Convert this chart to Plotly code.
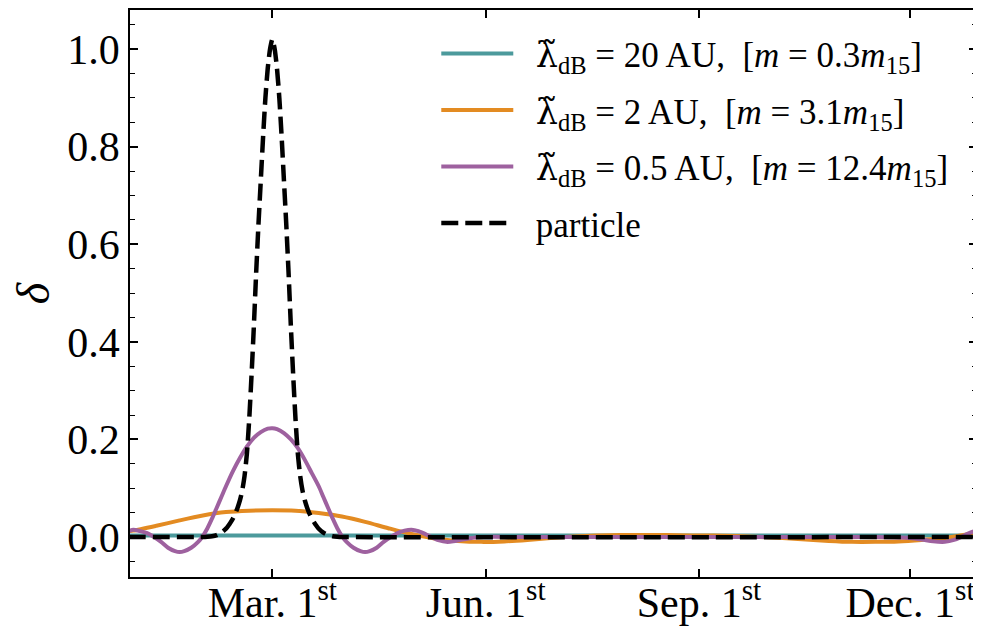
import plotly.graph_objects as go

# Day of year (Jan 1 = 1): Mar 1 = 60, Jun 1 = 152, Sep 1 = 244, Dec 1 = 335
tick_days = [60, 152, 244, 335]
tick_labels = ["Mar. 1<sup>st</sup>", "Jun. 1<sup>st</sup>", "Sep. 1<sup>st</sup>", "Dec. 1<sup>st</sup>"]

# lambda_dB = 20 AU
teal_days = [-2, 60, 150, 240, 330, 366]
teal_vals = [0.003, 0.003, 0.003, 0.003, 0.003, 0.003]

# lambda_dB = 2 AU
orange_days = [-2, 0, 10, 20, 30, 40, 50, 60, 70, 80, 90, 100, 110, 120, 130, 140, 150, 160,
               170, 180, 190, 200, 210, 220, 230, 240, 250, 260, 270, 280, 290, 300, 310,
               320, 330, 340, 350, 358, 366]
orange_vals = [0.012, 0.013, 0.023, 0.034, 0.044, 0.051, 0.054, 0.055, 0.054, 0.049, 0.042,
               0.031, 0.018, 0.006, -0.003, -0.008, -0.010, -0.009, -0.006, -0.002, 0.001,
               0.003, 0.004, 0.004, 0.004, 0.003, 0.003, 0.002, 0.000, -0.002, -0.005,
               -0.008, -0.010, -0.010, -0.009, -0.006, -0.002, 0.004, 0.012]

# lambda_dB = 0.5 AU
purple_days = [-2, 0, 3, 6, 9, 12, 15, 18, 20, 22, 25, 28, 30, 32, 34, 36, 38, 40, 43, 46, 49,
               52, 55, 58, 60, 62, 65, 68, 71, 74, 77, 80, 82, 84, 86, 88, 90, 92, 95, 98,
               100, 102, 105, 108, 111, 114, 117, 120, 123, 126, 129, 132, 135, 138, 142,
               146, 150, 170, 200, 230, 260, 290, 320, 330, 335, 340, 345, 350, 354, 357,
               360, 363, 366]
purple_vals = [0.012, 0.015, 0.012, 0.008, 0.000, -0.010, -0.022, -0.029, -0.031, -0.029,
               -0.022, -0.010, 0.002, 0.018, 0.038, 0.060, 0.082, 0.104, 0.135, 0.162,
               0.185, 0.203, 0.215, 0.222, 0.223, 0.221, 0.213, 0.200, 0.182, 0.158, 0.131,
               0.104, 0.082, 0.060, 0.038, 0.018, 0.002, -0.010, -0.022, -0.029, -0.031,
               -0.029, -0.022, -0.010, 0.000, 0.008, 0.013, 0.015, 0.012, 0.006, -0.001,
               -0.007, -0.010, -0.009, -0.005, -0.002, 0.000, 0.000, 0.000, 0.000, 0.000,
               0.000, 0.000, -0.001, -0.002, -0.005, -0.009, -0.010, -0.006, 0.000, 0.007,
               0.012, 0.015]

# particle
particle_days = [-2, 30, 32, 34, 36, 38, 40, 41, 42, 43, 44, 45, 46, 47, 48, 49, 50, 51, 52,
                 53, 54, 55, 56, 57, 58, 59, 60, 61, 62, 63, 64, 65, 66, 67, 68, 69, 70, 71,
                 72, 73, 74, 75, 76, 77, 78, 79, 80, 82, 84, 86, 88, 90, 366]
particle_vals = [0.0, 0.0, 0.0005, 0.0015, 0.004, 0.009, 0.017, 0.023, 0.030, 0.038, 0.048,
                 0.060, 0.075, 0.095, 0.125, 0.17, 0.24, 0.33, 0.43, 0.54, 0.64, 0.73, 0.82,
                 0.90, 0.96, 1.00, 1.02, 1.00, 0.96, 0.90, 0.82, 0.73, 0.64, 0.54, 0.43, 0.33,
                 0.24, 0.17, 0.125, 0.095, 0.075, 0.060, 0.048, 0.038, 0.030, 0.023, 0.017,
                 0.009, 0.004, 0.0015, 0.0005, 0.0, 0.0]

y_ticks = [0.0, 0.2, 0.4, 0.6, 0.8, 1.0]

teal = "#4c9a9c"
orange = "#e38b22"
purple = "#9e619f"

NB = "\u00a0"
SP = "\u2002"
lam = "<span style=\"font-family:'DejaVu Serif'\">λ\u0303</span><sub>dB</sub>"
names = [
    f"{SP}{lam} = 20 AU,{NB}{NB}[<i>m</i> = 0.3<i>m</i><sub>15</sub>]",
    f"{SP}{lam} = 2 AU,{NB}{NB}[<i>m</i> = 3.1<i>m</i><sub>15</sub>]",
    f"{SP}{lam} = 0.5 AU,{NB}{NB}[<i>m</i> = 12.4<i>m</i><sub>15</sub>]",
    f"{SP}particle",
]

fig = go.Figure()
fig.add_trace(go.Scatter(x=teal_days, y=teal_vals, mode="lines", name=names[0],
                         legendgroup="a", line=dict(color=teal, width=4)))
fig.add_trace(go.Scatter(x=orange_days, y=orange_vals, mode="lines", name=names[1],
                         legendgroup="b", line=dict(color=orange, width=4, shape="spline", smoothing=0.8)))
fig.add_trace(go.Scatter(x=purple_days, y=purple_vals, mode="lines", name=names[2],
                         legendgroup="c", line=dict(color=purple, width=4, shape="spline", smoothing=0.8)))
fig.add_trace(go.Scatter(x=particle_days, y=particle_vals, mode="lines", name=names[3],
                         legendgroup="d", line=dict(color="black", width=4.5, dash="17px,7px",
                                                    shape="spline", smoothing=0.6)))

font_family = "Liberation Serif, Times New Roman, serif"

# the page body adds an 8px offset, so the figure is sized 8px smaller
fig.update_layout(
    width=973, height=622,
    margin=dict(l=122, r=4, t=2, b=53, autoexpand=False),
    paper_bgcolor="white", plot_bgcolor="white",
    font=dict(family=font_family, color="black", size=42),
    showlegend=True,
    legend=dict(x=0.972, xanchor="right", y=0.975, yanchor="top",
                bgcolor="rgba(0,0,0,0)", borderwidth=0,
                font=dict(size=35, family=font_family),
                tracegroupgap=8, traceorder="grouped", itemwidth=72),
)
fig.update_xaxes(
    range=[-1.4, 363.9], tickvals=tick_days, ticktext=tick_labels,
    ticks="inside", ticklen=8, tickwidth=1.5, tickcolor="black",
    showline=True, linecolor="black", linewidth=1.8, mirror="allticks",
    showgrid=False, zeroline=False, tickfont=dict(size=42), automargin=False,
    ticklabelstandoff=-12,
)
fig.update_yaxes(
    range=[-0.082, 1.08], tickvals=y_ticks, ticktext=[f"{v:.1f}" for v in y_ticks],
    ticks="inside", ticklen=8, tickwidth=1.5, tickcolor="black",
    minor=dict(dtick=0.05, tick0=0, ticks="inside", ticklen=5, tickwidth=1.2, tickcolor="black"),
    showline=True, linecolor="black", linewidth=1.8, mirror="allticks",
    showgrid=False, zeroline=False, tickfont=dict(size=42), automargin=False,
    title=dict(text="<i>δ</i>", font=dict(size=46), standoff=26),
)

fig.write_html("out.html")
